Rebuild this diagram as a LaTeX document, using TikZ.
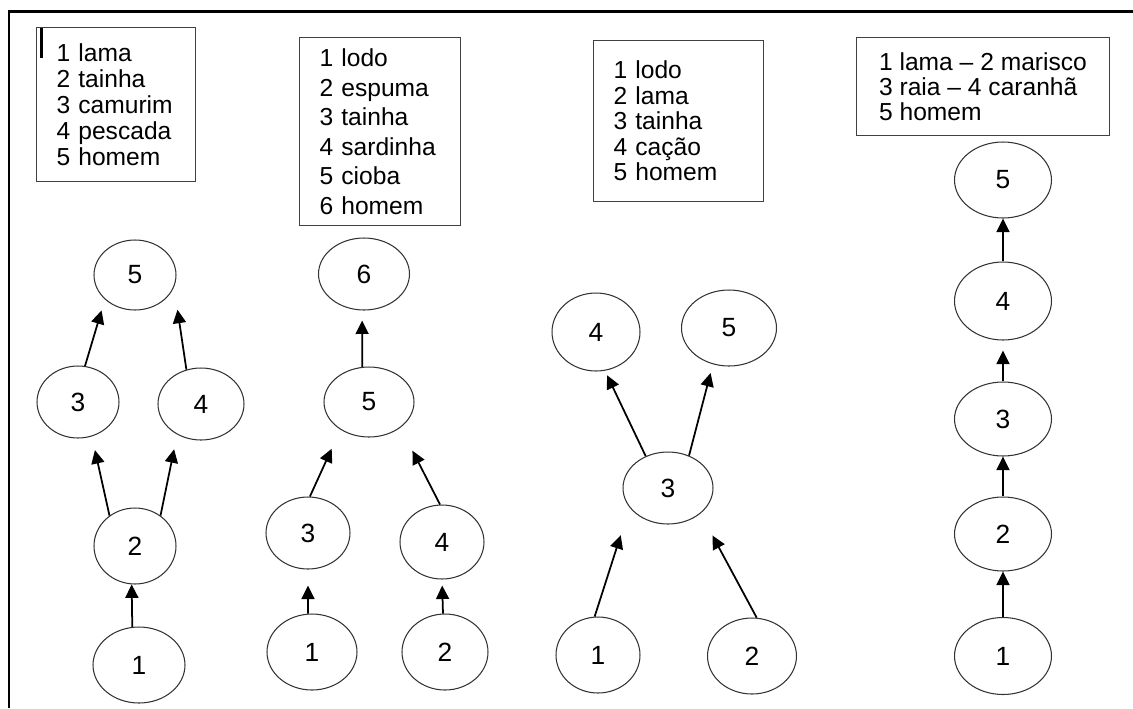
\documentclass[tikz,border=0pt]{standalone}
\usepackage{fontspec}
\setmainfont{Liberation Sans}
\usetikzlibrary{arrows.meta,shapes.geometric}

\begin{document}
\begin{tikzpicture}[x=0.02cm,y=-0.02cm,>={Triangle[length=2.7mm,width=2.6mm]},
  font=\fontsize{15}{16}\selectfont,
  bubble/.style={draw=black!80,line width=0.6pt,ellipse,inner sep=0pt,minimum width=1.76cm,minimum height=1.48cm},
  key/.style={draw=black!75,line width=0.6pt,anchor=north west,align=left,inner xsep=0.4cm,inner ysep=0pt},
  link/.style={->,line width=1pt}]
\useasboundingbox (0,0) rectangle (1133,708);
\draw[line width=1.7pt] (9,708) -- (9,11.5) -- (1133,11.5);

% legends
\node[key,text width=2.38cm,minimum height=3.08cm,font=\fontsize{14}{14.8}\selectfont] (keya) at (36,27)
  {1 lama\\2 tainha\\3 camurim\\4 pescada\\5 homem};
\draw[line width=1.7pt] (41.5,28) -- (41.5,58);
\node[key,text width=2.42cm,minimum height=3.76cm,font=\fontsize{14}{16.8}\selectfont] (keyb) at (299,37)
  {1 lodo\\2 espuma\\3 tainha\\4 sardinha\\5 cioba\\6 homem};
\node[key,text width=2.6cm,minimum height=3.22cm,font=\fontsize{14}{14.5}\selectfont] (keyc) at (593,40)
  {1 lodo\\2 lama\\3 tainha\\4 cação\\5 homem};
\node[key,minimum width=5.06cm,minimum height=1.96cm,font=\fontsize{14}{14.4}\selectfont] (keyd) at (856,37)
  {1 lama -- 2 marisco\\3 raia -- 4 caranhã\\5 homem};

% first web
\node[bubble,minimum width=1.64cm,minimum height=1.4cm] (a5) at (135,275) {5};
\node[bubble,minimum width=1.64cm,minimum height=1.44cm] (a3) at (78,402) {3};
\node[bubble,minimum width=1.72cm,minimum height=1.44cm] (a4) at (201,404) {4};
\node[bubble,minimum width=1.64cm,minimum height=1.52cm] (a2) at (135,546) {2};
\node[bubble,minimum width=1.84cm,minimum height=1.52cm] (a1) at (139,665) {1};
\draw[link] (a1.100) -- (a2.265);
\draw[link,shorten >=0.28cm] (a2.130) -- (a3.292);
\draw[link,shorten >=0.3cm] (a2.50) -- (a4.232);
\draw[link,shorten >=0.23cm] (a3.79) -- (a5.219);
\draw[link,shorten >=0.46cm] (a4.113) -- (a5.343);

% second web
\node[bubble,minimum width=1.82cm,minimum height=1.44cm] (b6) at (364,274) {6};
\node[bubble,minimum width=1.8cm,minimum height=1.4cm] (b5) at (369,402) {5};
\node[bubble,minimum width=1.68cm,minimum height=1.44cm] (b3) at (308,533) {3};
\node[bubble,minimum width=1.68cm] (b4) at (442,542) {4};
\node[bubble,minimum width=1.8cm,minimum height=1.52cm] (b1) at (312,652) {1};
\node[bubble,minimum width=1.72cm,minimum height=1.52cm] (b2) at (445,652) {2};
\draw[link,shorten >=0.32cm] (b1.96) -- (b3.270);
\draw[link,shorten >=0.12cm] (b2.93) -- (b4.270);
\draw[link,shorten >=0.42cm] (b3.87) -- (b5.224);
\draw[link,shorten >=0.52cm] (b4.93) -- (b5.321);
\draw[link,shorten >=0.2cm] (b5.101) -- (b6.267);

% third web
\node[bubble,minimum height=1.56cm] (c4) at (596,332) {4};
\node[bubble,minimum width=1.9cm,minimum height=1.52cm] (c5) at (729,328) {5};
\node[bubble,minimum width=1.8cm,minimum height=1.44cm] (c3) at (668,488) {3};
\node[bubble,minimum width=1.68cm,minimum height=1.52cm] (c1) at (598,655) {1};
\node[bubble,minimum width=1.78cm,minimum height=1.52cm] (c2) at (752,656) {2};
\draw[link,shorten >=0.58cm] (c1.95) -- (c3.207);
\draw[link,shorten >=0.5cm] (c2.83) -- (c3.322);
\draw[link,shorten >=0.1cm] (c3.125) -- (c4.283);
\draw[link,shorten >=0.18cm] (c3.57) -- (c5.246);

% fourth web
\node[bubble,minimum width=1.94cm,minimum height=1.52cm] (d5) at (1003,180) {5};
\node[bubble,minimum width=1.94cm,minimum height=1.56cm] (d4) at (1003,301) {4};
\node[bubble,minimum width=1.94cm] (d3) at (1003,419) {3};
\node[bubble,minimum width=1.94cm] (d2) at (1003,534) {2};
\node[bubble,minimum width=1.94cm,minimum height=1.54cm] (d1) at (1003,656) {1};
\draw[link] (d1) -- (d2);
\draw[link] (d2) -- (d3);
\draw[link,shorten >=0.2cm] (d3) -- (d4);
\draw[link] (d4) -- (d5);
\end{tikzpicture}
\end{document}
